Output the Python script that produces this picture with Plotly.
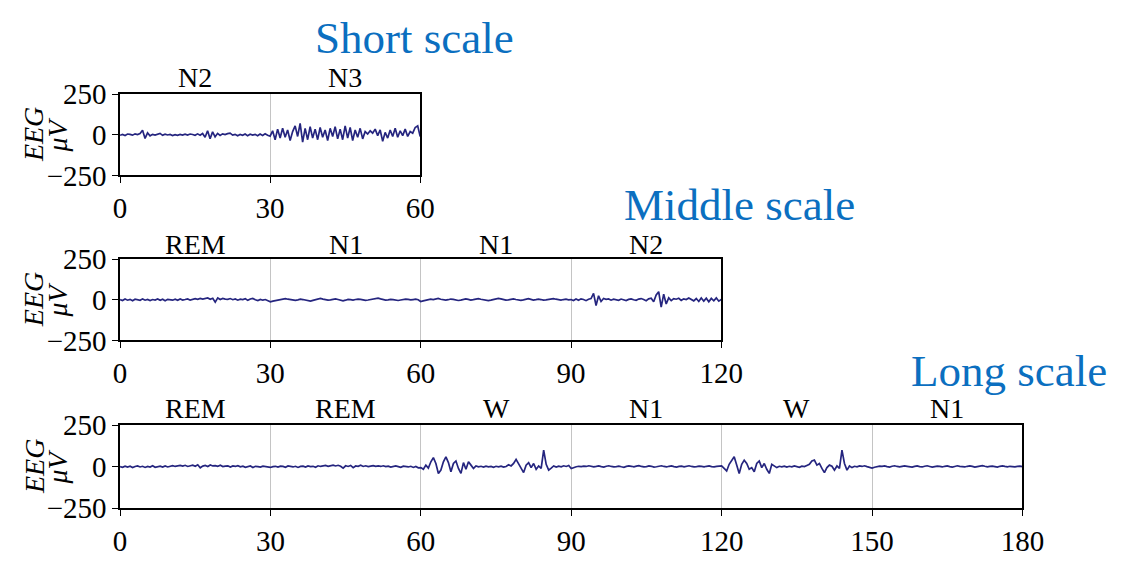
import numpy as np
import plotly.graph_objects as go

# ---------------- data (EEG samples every 0.5 s, values in µV) ----------------
SAMPLE_STEP = 0.5
EPOCH = 30

short_stages = ["N2", "N3"]
middle_stages = ["REM", "N1", "N1", "N2"]
long_stages = ["REM", "REM", "W", "N1", "W", "N1"]

short_eeg = [
    # N2 0-30 s
    -3, 2, -4, 5, 3, -2, 6, 2, 8, 28, -22, 12, -6, 3, -2, 5, 9, -3, 4, -1,
    2, -4, 1, -3, 3, -2, 4, -1, 5, 2, -3, 6, -2, 8, -15, 25, -24, 18, -12, 9,
    -4, 6, 1, 7, 10, -2, 3, -6, 2, -3, 5, -5, 4, -2, 3, -6, 5, -4, 6, -3, -8,
    # N3 30.5-60 s
    25, -30, 35, -20, 40, -15, 30, -35, 20, 55, -10, 70, -45, 40, -30, 50, -20, 35, -30, 45,
    -15, 30, -35, 40, -10, 50, -25, 35, -30, 55, -20, 45, -35, 30, -15, 40, -25, 20, 5, 25,
    10, 35, -5, 30, -40, 15, -20, 30, -10, 40, -15, 25, -5, 35, -10, 20, 10, 45, 55, -10,
]

middle_eeg = [
    # REM 0-30
    2, -4, 5, -2, 3, -5, 4, 1, -3, 6, -2, 3, -4, 2, -1, 5, -3, 4, -6, 3,
    1, -2, 4, -3, 5, -1, 2, 6, -2, 4, 7, 3, 9, 5, 8, 12, 4, 10, -14, 12,
    2, 9, 5, 3, 8, 1, 6, -2, 4, 2, 7, -3, 5, 9, 1, -4, 3, -2, 2, -5,
    # N1 30-60
    -12, -8, -4, 0, 3, 6, 8, 4, 2, -1, -3, 0, 4, 2, -2, -5, -8, -3, 2, 6,
    9, 5, 1, -2, 0, 3, 6, 2, -3, -6, -2, 3, 1, -1, 2, 5, 3, -1, -3, -1,
    2, 4, 8, 10, 6, 2, -1, 0, 3, 1, -2, -4, -1, 2, 5, 3, 0, 2, 4, 1,
    # N1 60-90
    -10, -6, -2, 1, 4, 2, 6, 9, 4, 0, -2, 1, 5, 3, -1, -4, -2, 2, 6, 3,
    -1, 1, 5, 8, 4, 0, -3, -5, -2, 2, 5, 9, 6, 1, -2, 0, 3, 6, 2, -1,
    -3, 0, 4, 7, 3, -1, 1, 4, 2, -2, 0, 3, 5, 8, 4, 1, -1, 2, 4, 0,
    # N2 90-120
    2, -4, 5, -3, 6, 2, -5, 4, 8, 40, -35, 25, -10, 8, 3, 6, -2, 4, 1, -3,
    5, 0, -4, 3, 6, 1, -3, 5, 8, 2, -5, 6, 10, -12, 30, 50, -45, 35, -25, 12,
    -5, 8, 4, 10, -3, 6, 2, 12, 5, -6, 8, -10, 12, -8, 10, -12, 9, -6, 12, -8, 3,
]

long_eeg = [
    # REM 0-30
    1, -3, 4, -2, 3, -5, 2, 5, -1, 3, -4, 2, -2, 6, -3, 1, 4, -2, 5, -1,
    3, 7, 2, 5, 8, 4, 9, 2, 6, 10, 3, 12, -6, 4, 8, 2, 11, 5, 7, 3,
    9, 1, 4, 6, -2, 5, 2, 7, 0, 4, -3, 2, 5, -4, 3, 1, -2, 4, 0, -3,
    # REM 30-60
    -4, 1, 3, -2, 4, 2, -3, 5, 1, -1, 3, -4, 2, 4, -2, 5, 1, 3, -3, 6,
    2, 4, 8, 3, 7, 10, 5, 9, 3, -8, 6, 2, 8, -5, 5, 3, 9, 2, 6, 1,
    4, 7, 3, 5, 2, 6, 1, 4, -2, 3, 5, 1, -3, 4, 2, -1, 3, -4, 2, -6,
    # W 60-90
    -5, -15, 10, -8, 30, 55, 20, -40, -20, 30, 60, 25, -30, 20, 35, -10, -40, 25, -15, 30,
    10, -10, 5, 0, 3, -2, 4, 0, 2, -3, 3, 0, 4, -2, 2, 12, 5, 20, 45, 15,
    -10, -35, 10, 25, -5, 20, -15, 5, -10, 100, 15, -20, -8, 5, -2, 4, 0, 6, 2, 8,
    # N1 90-120
    -10, -4, 0, 3, 1, 4, 2, 6, 3, 0, 2, 5, 1, -2, 3, 6, 2, -1, 1, 4,
    0, -3, 2, 5, 3, 0, 4, 7, 2, -1, 1, 5, 3, -2, 0, 4, 6, 2, -1, 3,
    5, 1, -2, 2, 4, 0, 3, 6, 2, -1, 1, 4, 2, 0, 3, 5, 1, -1, 2, 4,
    # W 120-150
    5, -10, -25, 15, 35, 60, 10, -40, 15, 40, 20, -15, -5, -30, 20, 35, -5, 20, -15, -40,
    15, 5, -5, 3, 0, 4, -2, 3, 0, 5, 2, -3, 4, 1, 8, 15, 35, 40, 10, 20,
    -10, -35, -5, 10, 3, -20, 5, -10, 100, 20, -20, 5, -5, 3, 0, 5, 2, 6, 1, -4,
    # N1 150-180
    -8, -3, 1, 4, 2, 5, 1, -2, 3, 6, 2, -1, 2, 5, 3, 0, -2, 2, 5, 1,
    -1, 3, 6, 2, -2, 1, 4, 2, -1, 3, 5, 1, -2, 2, 6, 3, 0, -1, 3, 5,
    2, -2, 1, 4, 7, 3, 0, 2, 4, 1, -2, 3, 5, 2, 0, 3, 1, -1, 2, 4, 1,
]

panel_titles = ["Short scale", "Middle scale", "Long scale"]
y_ticks = [-250, 0, 250]
y_range = [-250, 250]

# ---------------- layout (pixel geometry of the 1138x562 canvas) ----------------
W, H = 1138, 562
FONT = "Liberation Serif"
LINE_COLOR = "#25257f"
TITLE_COLOR = "#0b6fc0"
TICK_SIZE = 29

def px_x(p):
    return p / W

def px_y(p):
    return 1 - p / H

panels = [
    dict(stages=short_stages, eeg=short_eeg, left=116, right=424, top=83, bottom=169,
         label_y=65, title=panel_titles[0], title_x=418, title_y=23),
    dict(stages=middle_stages, eeg=middle_eeg, left=116, right=733, top=258, bottom=344,
         label_y=242, title=panel_titles[1], title_x=752, title_y=200),
    dict(stages=long_stages, eeg=long_eeg, left=116, right=1042, top=434, bottom=522,
         label_y=416, title=panel_titles[2], title_x=1028, title_y=376),
]

fig = go.Figure()
annotations = []
layout_axes = {}

for i, p in enumerate(panels, start=1):
    n_epochs = len(p["stages"])
    duration = n_epochs * EPOCH
    t = np.arange(len(p["eeg"])) * SAMPLE_STEP
    xname = "x" if i == 1 else f"x{i}"
    yname = "y" if i == 1 else f"y{i}"
    fig.add_trace(go.Scatter(x=t, y=p["eeg"], mode="lines",
                             line=dict(color=LINE_COLOR, width=1.7),
                             xaxis=xname, yaxis=yname, showlegend=False,
                             hoverinfo="skip"))
    xkey = "xaxis" if i == 1 else f"xaxis{i}"
    ykey = "yaxis" if i == 1 else f"yaxis{i}"
    layout_axes[xkey] = dict(
        domain=[px_x(p["left"]), px_x(p["right"])], anchor=yname,
        range=[0, duration], tickvals=list(range(0, duration + 1, EPOCH)),
        showgrid=True, gridcolor="#c4c4c4", gridwidth=1, zeroline=False,
        showline=True, linecolor="black", linewidth=1.5, mirror=True,
        ticks="outside", ticklen=6, tickcolor="black",
        tickfont=dict(family=FONT, size=TICK_SIZE, color="black"),
    )
    layout_axes[ykey] = dict(
        domain=[px_y(p["bottom"]), px_y(p["top"])], anchor=xname,
        range=y_range, tickvals=y_ticks,
        showgrid=False, zeroline=False,
        showline=True, linecolor="black", linewidth=1.5, mirror=True,
        ticks="outside", ticklen=6, tickcolor="black",
        tickfont=dict(family=FONT, size=TICK_SIZE, color="black"),
    )
    # sleep stage labels
    for k, stage in enumerate(p["stages"]):
        annotations.append(dict(x=EPOCH * k + EPOCH / 2, xref=xname, y=px_y(p["label_y"]), yref="paper",
                                text=stage, showarrow=False, xanchor="center", yanchor="middle",
                                font=dict(family=FONT, size=28, color="black")))
    # y-axis title (two rotated lines)
    yc = px_y((p["top"] + p["bottom"]) / 2)
    for txt, xc in (("EEG", 28), ("μV", 52)):
        annotations.append(dict(x=px_x(xc), xref="paper", y=yc, yref="paper",
                                text=f"<i>{txt}</i>", textangle=-90, showarrow=False,
                                xanchor="center", yanchor="middle",
                                font=dict(family=FONT, size=28, color="black")))
    # scale title
    annotations.append(dict(x=px_x(p["title_x"]), xref="paper", y=px_y(p["title_y"]), yref="paper",
                            text=p["title"], showarrow=False, xanchor="center", yanchor="middle",
                            font=dict(family=FONT, size=45, color=TITLE_COLOR)))

fig.update_layout(
    width=W, height=H, margin=dict(l=0, r=0, t=0, b=0),
    paper_bgcolor="white", plot_bgcolor="white",
    annotations=annotations, **layout_axes,
)

fig.write_html("out.html")

# remove the browser's default 8px body margin so the chart sits at the page origin
with open("out.html", encoding="utf-8") as fh:
    html = fh.read()
html = html.replace("<body>", '<body style="margin:0;padding:0;overflow:hidden">', 1)
with open("out.html", "w", encoding="utf-8") as fh:
    fh.write(html)
